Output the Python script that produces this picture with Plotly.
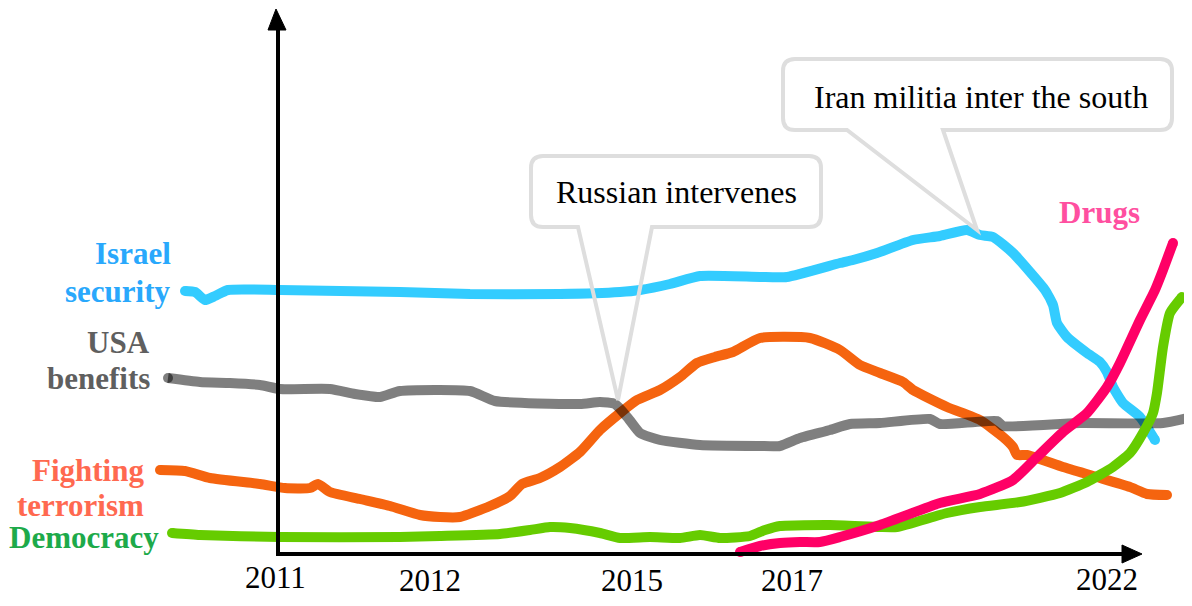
import plotly.graph_objects as go

# Timeline position (schematic x) and level (higher = more important)
israel_x = [185, 195, 205, 215, 228, 280, 400, 470, 560, 620, 640, 670, 700, 760, 787, 840, 853, 877, 913, 940, 967, 980, 993, 1013, 1030, 1045, 1053, 1057, 1067, 1087, 1100, 1107, 1113, 1123, 1140, 1155]
israel_y = [315, 314, 306, 310, 316, 316, 314, 312, 312, 314, 316, 322, 330, 329, 329, 343, 346, 353, 366, 370, 376, 371, 369, 353, 334, 316, 301, 283, 269, 253, 244, 234, 219, 203, 189, 166]

usa_x = [168, 200, 230, 260, 280, 330, 355, 380, 400, 470, 495, 580, 600, 615, 628, 640, 660, 700, 760, 780, 800, 830, 850, 880, 930, 940, 997, 1003, 1080, 1163, 1192]
usa_y = [228, 224, 223, 221, 217, 217, 212, 209, 215, 215, 205, 202, 204, 202, 188, 173, 166, 161, 160, 160, 168, 176, 182, 183, 187, 182, 185, 180, 183, 183, 189]

terror_x = [160, 185, 210, 260, 285, 310, 318, 330, 360, 390, 420, 440, 460, 490, 510, 522, 540, 560, 580, 600, 620, 637, 660, 680, 697, 715, 733, 760, 810, 840, 860, 880, 903, 913, 947, 980, 1003, 1013, 1017, 1027, 1063, 1097, 1130, 1147, 1167]
terror_y = [136, 135, 128, 122, 118, 118, 122, 114, 107, 100, 91, 89, 89, 100, 110, 122, 128, 139, 154, 176, 193, 206, 216, 229, 243, 249, 254, 268, 268, 256, 241, 233, 224, 216, 199, 186, 169, 159, 151, 151, 139, 129, 119, 112, 111]

democ_x = [172, 200, 280, 400, 440, 500, 530, 550, 570, 600, 620, 650, 680, 700, 720, 750, 765, 780, 830, 880, 897, 947, 980, 1020, 1060, 1087, 1113, 1130, 1143, 1153, 1157, 1163, 1170, 1182]
democ_y = [73, 71, 69, 69, 70, 72, 76, 79, 78, 73, 68, 69, 68, 71, 68, 70, 76, 80, 81, 79, 79, 93, 99, 104, 113, 124, 139, 153, 173, 193, 213, 259, 293, 309]

drugs_x = [740, 760, 780, 800, 820, 840, 880, 940, 980, 1013, 1037, 1063, 1087, 1107, 1120, 1140, 1155, 1163, 1173]
drugs_y = [54, 60, 63, 64, 64, 69, 81, 103, 112, 126, 149, 174, 193, 219, 243, 286, 316, 336, 363]

tick_years = ["2011", "2012", "2015", "2017", "2022"]
tick_pos = [275, 430, 632, 792, 1107]
tick_ypix = [577, 580, 580, 580, 579]

SERIF = "Liberation Serif"
FS = 32

series = [
    (israel_x, israel_y, "#33ccff"),
    (terror_x, terror_y, "#f5640f"),
    (usa_x, usa_y, "rgba(0,0,0,0.5)"),
    (democ_x, democ_y, "#66cc00"),
    (drugs_x, drugs_y, "#ff0066"),
]

fig = go.Figure()
for xs, ys, col in series:
    fig.add_trace(go.Scatter(x=xs, y=ys, mode="lines",
                             line=dict(color=col, width=10, shape="spline", smoothing=0.5),
                             hoverinfo="skip", showlegend=False))
    fig.add_trace(go.Scatter(x=[xs[0], xs[-1]], y=[ys[0], ys[-1]], mode="markers",
                             marker=dict(color=col, size=10), hoverinfo="skip", showlegend=False))

# invisible trace on the page-pixel axis used for annotations/shapes
fig.add_trace(go.Scatter(x=[300], y=[300], yaxis="y2", mode="markers",
                         marker=dict(opacity=0), hoverinfo="skip", showlegend=False))

shapes = []
shapes.append(dict(type="line", xref="x", yref="y2", x0=278, x1=278, y0=555, y1=26,
                   line=dict(color="black", width=4)))
shapes.append(dict(type="path", xref="x", yref="y2", path="M 276,9 L 268,30 L 286,30 Z",
                   fillcolor="black", line=dict(color="black", width=1)))
shapes.append(dict(type="line", xref="x", yref="y2", x0=276, x1=1128, y0=554, y1=554,
                   line=dict(color="black", width=4)))
shapes.append(dict(type="path", xref="x", yref="y2", path="M 1142,554 L 1122,545 L 1122,563 Z",
                   fillcolor="black", line=dict(color="black", width=1)))


def callout(x0, x1, y0, y1, bl, br, tx, ty, r=12):
    p = (f"M {bl},{y1} L {x0+r},{y1} Q {x0},{y1} {x0},{y1-r} L {x0},{y0+r} Q {x0},{y0} {x0+r},{y0} "
         f"L {x1-r},{y0} Q {x1},{y0} {x1},{y0+r} L {x1},{y1-r} Q {x1},{y1} {x1-r},{y1} "
         f"L {br},{y1} L {tx},{ty} Z")
    return dict(type="path", xref="x", yref="y2", path=p, fillcolor="rgba(0,0,0,0)",
                line=dict(color="#dedede", width=4), layer="above")


shapes.append(callout(531, 821, 156, 227, 578, 652, 618, 400))
shapes.append(callout(783, 1172, 59, 130, 847, 943, 977, 230))

ann = []
for lab, xp, yp in zip(tick_years, tick_pos, tick_ypix):
    ann.append(dict(x=xp, y=yp, xref="x", yref="y2", text=lab, showarrow=False,
                    font=dict(family=SERIF, size=FS - 1, color="black")))

labels = [
    ("Israel", 173, 253, "#29a8fc", "right"),
    ("security", 173, 291, "#29a8fc", "right"),
    ("USA", 152, 342, "#5f5f5f", "right"),
    ("benefits", 152, 378, "#5f5f5f", "right"),
    ("Fighting", 146, 470, "#ff6950", "right"),
    ("terrorism", 146, 505, "#ff6950", "right"),
    ("Democracy", 161, 537, "#1daa4a", "right"),
    ("Drugs", 1099, 212, "#ff4fa0", "center"),
]
for t, xp, yp, c, xa in labels:
    ann.append(dict(x=xp, y=yp, xref="x", yref="y2", text=f"<b>{t}</b>", showarrow=False,
                    xanchor=xa, font=dict(family=SERIF, size=FS - 1, color=c)))

ann.append(dict(x=676, y=192, xref="x", yref="y2", text="Russian intervenes", showarrow=False,
                font=dict(family=SERIF, size=FS, color="black")))
ann.append(dict(x=981, y=97, xref="x", yref="y2", text="Iran militia inter the south", showarrow=False,
                font=dict(family=SERIF, size=FS, color="black")))

# page has an 8px body margin: the figure box covers page pixels 8..1184 x 8..598
fig.update_layout(
    width=1176, height=590,
    margin=dict(l=0, r=0, t=0, b=0),
    paper_bgcolor="white", plot_bgcolor="white",
    xaxis=dict(range=[8, 1184], visible=False, fixedrange=True),
    yaxis=dict(range=[8, 598], visible=False, fixedrange=True),
    yaxis2=dict(range=[598, 8], visible=False, overlaying="y", fixedrange=True),
    shapes=shapes, annotations=ann,
)

fig.write_html("out.html", config={"displayModeBar": False})
